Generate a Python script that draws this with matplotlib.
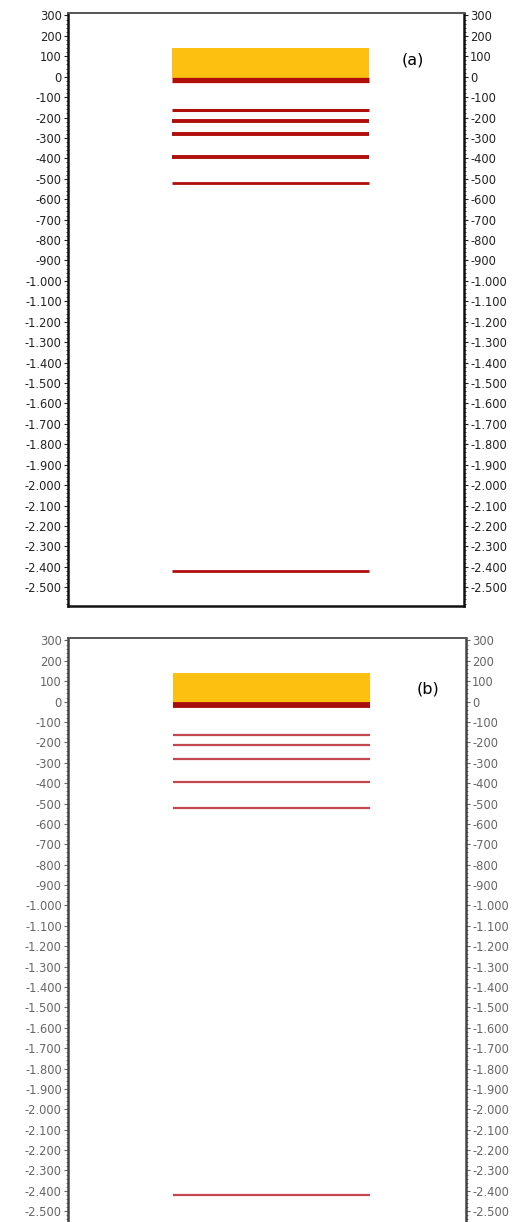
import numpy as np
import matplotlib
matplotlib.use("Agg")
import matplotlib.pyplot as plt
from matplotlib.ticker import FuncFormatter, MultipleLocator

# layer top/bottom of the yellow block and the red horizon depths (same in both panels)
block_top = 140
block_bottom = -5
horizons = [-17, -165, -215, -283, -395, -520, -2420]
widths_a = [3.8, 2.2, 2.8, 2.8, 2.8, 2.0, 2.0]
widths_b = [4.2, 1.6, 1.6, 1.6, 1.6, 1.6, 1.6]
panel_labels = ["(a)", "(b)"]
tick_values = np.arange(300, -2600, -100)


def fmt(v, pos):
    return f"{int(round(v)):,}".replace(",", ".")


fig = plt.figure(figsize=(5.3, 12.22), dpi=100)
H = 1222.0
W = 530.0
boxes = [(68, 13, 464, 606), (68, 638, 466, 1230)]
x0, x1 = 26.3, 76.0

for k, (l, t, r, b) in enumerate(boxes):
    ax = fig.add_axes([l / W, 1 - b / H, (r - l) / W, (b - t) / H])
    ax.set_xlim(0, 100)
    ax.set_ylim(-2592, 312)
    ax.fill_between([x0, x1], block_bottom, block_top, color="#fdc010", lw=0, zorder=2)
    if k == 0:
        cols = ["#b00d0d"] * len(horizons)
        widths = widths_a
    else:
        cols = ["#a80c0c"] + ["#c2474f"] * (len(horizons) - 1)
        widths = widths_b
    for y, c, w in zip(horizons, cols, widths):
        ax.plot([x0, x1], [y, y], color=c, lw=w, solid_capstyle="butt", zorder=3)
    ax.text(0.87 if k == 0 else 0.905, 83 if k == 0 else 61, panel_labels[k],
            transform=ax.get_yaxis_transform(), fontsize=11.5, ha="center", va="center")
    ax.set_xticks([])
    ax.set_yticks(tick_values)
    ax.yaxis.set_major_formatter(FuncFormatter(fmt))
    ax.yaxis.set_minor_locator(MultipleLocator(20))
    ax.tick_params(axis="y", which="both", left=True, right=True, labelleft=True,
                   labelright=True, labelsize=8.3, direction="out", pad=1.5,
                   colors="#222222" if k == 0 else "#666666")
    ax.tick_params(axis="y", which="major", length=3, width=0.8)
    ax.tick_params(axis="y", which="minor", length=1.5, width=0.6)
    for s in ax.spines.values():
        s.set_linewidth(1.8)
        s.set_color("#111111" if k == 0 else "#444444")
    ax.spines["top"].set_color("#555555")
    ax.spines["top"].set_linewidth(1.4)

fig.savefig("out.png", dpi=100)
